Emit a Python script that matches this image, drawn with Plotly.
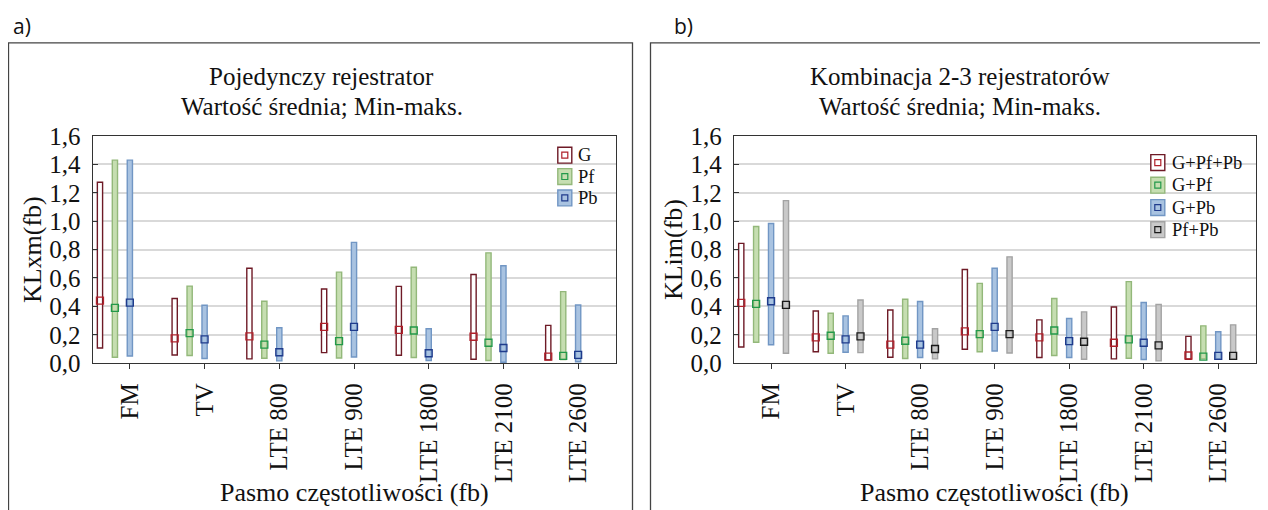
import plotly.graph_objects as go

categories = ["FM", "TV", "LTE 800", "LTE 900", "LTE 1800", "LTE 2100", "LTE 2600"]

# ---- a) single recorder ----
g_min = [0.107, 0.058, 0.030, 0.074, 0.056, 0.028, 0.023]
g_max = [1.274, 0.455, 0.669, 0.522, 0.541, 0.625, 0.266]
g_mean = [0.441, 0.175, 0.189, 0.256, 0.235, 0.186, 0.046]
pf_min = [0.042, 0.054, 0.035, 0.037, 0.040, 0.019, 0.026]
pf_max = [1.430, 0.543, 0.436, 0.641, 0.676, 0.777, 0.504]
pf_mean = [0.389, 0.212, 0.130, 0.156, 0.230, 0.144, 0.051]
pb_min = [0.051, 0.033, 0.016, 0.044, 0.019, 0.007, 0.010]
pb_max = [1.430, 0.408, 0.249, 0.851, 0.242, 0.686, 0.410]
pb_mean = [0.427, 0.168, 0.077, 0.256, 0.070, 0.107, 0.058]

# ---- b) combinations ----
gpfpb_min = [0.114, 0.081, 0.042, 0.098, 0.040, 0.030, 0.028]
gpfpb_max = [0.844, 0.368, 0.375, 0.660, 0.305, 0.396, 0.189]
gpfpb_mean = [0.424, 0.182, 0.130, 0.224, 0.182, 0.144, 0.054]
gpf_min = [0.147, 0.070, 0.033, 0.081, 0.054, 0.035, 0.030]
gpf_max = [0.963, 0.352, 0.450, 0.562, 0.455, 0.574, 0.263]
gpf_mean = [0.417, 0.193, 0.158, 0.205, 0.230, 0.168, 0.046]
gpb_min = [0.130, 0.077, 0.040, 0.086, 0.040, 0.026, 0.030]
gpb_max = [0.984, 0.333, 0.434, 0.669, 0.315, 0.427, 0.221]
gpb_mean = [0.436, 0.168, 0.130, 0.256, 0.156, 0.144, 0.051]
pfpb_min = [0.070, 0.074, 0.030, 0.072, 0.028, 0.016, 0.030]
pfpb_max = [1.145, 0.445, 0.242, 0.749, 0.361, 0.413, 0.270]
pfpb_mean = [0.410, 0.189, 0.100, 0.205, 0.151, 0.126, 0.051]

y_ticks = [0.0, 0.2, 0.4, 0.6, 0.8, 1.0, 1.2, 1.4, 1.6]
top_ticks_left = [0.424, 1.361, 2.298, 3.235, 4.172, 5.109, 6.046]

W, H = 1268, 510
# observed placement of the plot area inside the photographed page
OX, OY, HE = 7.5, 20.0, 486.0


def PX(t):
    return (t - OX) / W


def PY(t):
    return 1 - (t - OY) / HE


SERIF = "Liberation Serif, Times New Roman, serif"

RED = dict(fill="rgba(255,255,255,1)", line="#6e1a26", mark="#b0202a")
GRN = dict(fill="#c6deb1", line="#93b87a", mark="#22994a")
BLU = dict(fill="#a9c3e1", line="#7196c4", mark="#1f3b8c")
GRY = dict(fill="#c9c9c9", line="#a3a3a3", mark="#1a1a1a")

left_series = [
    ("G", g_min, g_max, g_mean, -0.4, RED),
    ("Pf", pf_min, pf_max, pf_mean, -0.2, GRN),
    ("Pb", pb_min, pb_max, pb_mean, 0.0, BLU),
]
right_series = [
    ("G+Pf+Pb", gpfpb_min, gpfpb_max, gpfpb_mean, -0.4, RED),
    ("G+Pf", gpf_min, gpf_max, gpf_mean, -0.2, GRN),
    ("G+Pb", gpb_min, gpb_max, gpb_mean, 0.0, BLU),
    ("Pf+Pb", pfpb_min, pfpb_max, pfpb_mean, 0.2, GRY),
]

fig = go.Figure()


def add_series(series, xa, ya):
    for name, mn, mx, mean, off, c in series:
        xs = [i + off for i in range(len(categories))]
        fig.add_trace(go.Bar(
            x=xs, y=[b - a for a, b in zip(mn, mx)], base=mn, width=0.07,
            marker=dict(color=c["fill"], line=dict(color=c["line"], width=1.4)),
            name=name, xaxis=xa, yaxis=ya, showlegend=False, hoverinfo="skip"))
    for name, mn, mx, mean, off, c in series:
        xs = [i + off for i in range(len(categories))]
        fig.add_trace(go.Scatter(
            x=xs, y=mean, mode="markers", xaxis=xa, yaxis=ya, showlegend=False,
            name=name,
            marker=dict(symbol="square-open", size=7, color=c["mark"],
                        line=dict(width=1.3, color=c["mark"]))))


add_series(left_series, "x", "y")
add_series(right_series, "x2", "y2")

xcommon = dict(range=[-0.5, 6.5], tickvals=list(range(7)), ticktext=categories,
               tickangle=-90, ticks="outside", ticklen=5, tickcolor="#333",
               showline=True, linecolor="#333", linewidth=1.2, mirror=True,
               showgrid=False, zeroline=False, ticklabelstandoff=4,
               tickfont=dict(family=SERIF, size=25, color="#111"))
ycommon = dict(range=[0, 1.6], tickvals=y_ticks, tickformat=".1f",
               ticks="inside", ticklen=5, tickcolor="#333",
               showline=True, linecolor="#333", linewidth=1.2, mirror=True,
               showgrid=True, gridcolor="#d9d9d9", gridwidth=1.5, zeroline=False,
               ticklabelstandoff=6,
               tickfont=dict(family=SERIF, size=25, color="#111"))
top_common = dict(side="top", range=[-0.5, 6.5], ticks="inside", ticklen=5,
                  tickcolor="#333", showticklabels=False, showline=False,
                  showgrid=False, zeroline=False)
right_common = dict(side="right", range=[0, 1.6], tickvals=y_ticks, ticks="outside",
                    ticklen=5, tickcolor="#333", showticklabels=False,
                    showline=False, showgrid=False, zeroline=False)

ydom = [PY(364.3), PY(135.7)]
fig.update_layout(
    width=W, height=H, margin=dict(l=0, r=0, t=0, b=0),
    paper_bgcolor="white", plot_bgcolor="white",
    separators=",.", barmode="overlay", showlegend=False,
    xaxis=dict(domain=[PX(92), PX(615)], anchor="y", **xcommon),
    yaxis=dict(domain=ydom, anchor="x", **ycommon),
    xaxis2=dict(domain=[PX(733.3), PX(1255)], anchor="y2", **xcommon),
    yaxis2=dict(domain=ydom, anchor="x2", **ycommon),
    xaxis3=dict(overlaying="x", anchor="y", tickvals=top_ticks_left, **top_common),
    xaxis4=dict(overlaying="x2", anchor="y2", tickvals=list(range(7)), **top_common),
    yaxis3=dict(overlaying="y", anchor="x", **right_common),
    yaxis4=dict(overlaying="y2", anchor="x2", **right_common),
)

shapes = []
# panel frames
shapes.append(dict(type="rect", xref="paper", yref="paper", x0=PX(8), x1=PX(632),
                   y0=-0.1, y1=PY(42), line=dict(color="#444", width=1.3)))
shapes.append(dict(type="rect", xref="paper", yref="paper", x0=PX(650), x1=1.1,
                   y0=-0.1, y1=PY(42), line=dict(color="#444", width=1.3)))

ann = []


def text(x, y, s, size=25, angle=0, family=SERIF, xanchor="center"):
    ann.append(dict(x=PX(x), y=PY(y), xref="paper", yref="paper", text=s,
                    showarrow=False, xanchor=xanchor, yanchor="middle",
                    textangle=angle, font=dict(family=family, size=size, color="#111")))


# legends (swatch with mean marker inside)
def legend(series, x_icon, ys, x_text):
    for (name, mn, mx, mean, off, c), yc in zip(series, ys):
        shapes.append(dict(type="rect", xref="paper", yref="paper",
                           x0=PX(x_icon), x1=PX(x_icon + 14), y0=PY(yc + 8), y1=PY(yc - 8),
                           fillcolor=c["fill"], line=dict(color=c["line"], width=1.4)))
        xc = x_icon + 7
        shapes.append(dict(type="rect", xref="paper", yref="paper",
                           x0=PX(xc - 3), x1=PX(xc + 3), y0=PY(yc + 3), y1=PY(yc - 3),
                           fillcolor="rgba(0,0,0,0)", line=dict(color=c["mark"], width=1.2)))
        text(x_text, yc, name, size=18.5, xanchor="left")


legend(left_series, 557.3, [155, 176.5, 198], 575.5)
legend(right_series, 1150.3, [162.5, 185.2, 207.7, 230], 1169)

SANS = "Liberation Sans Narrow, Open Sans, sans-serif"
text(21, 25, "a)", size=21, family=SANS)
text(683, 25, "b)", size=21, family=SANS)
text(321, 76, "Pojedynczy rejestrator")
text(321, 106, "Wartość średnia; Min-maks.")
text(959, 76, "Kombinacja 2-3 rejestratorów")
text(959, 106, "Wartość średnia; Min-maks.")
text(32, 250, "KLxm(fb)", size=26, angle=-90)
text(673, 250, "KLim(fb)", size=26, angle=-90)
text(354, 494, "Pasmo częstotliwości (fb)", size=26)
text(994, 494, "Pasmo częstotliwości (fb)", size=26)
fig.update_layout(annotations=ann, shapes=shapes)

fig.write_html("out.html")
